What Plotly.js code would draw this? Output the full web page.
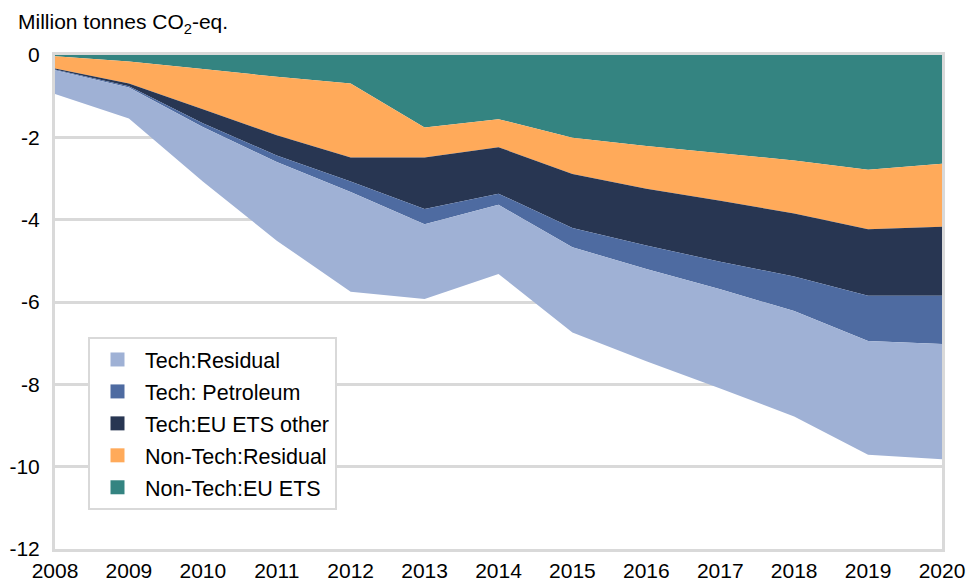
<!DOCTYPE html>
<html>
<head>
<meta charset="utf-8">
<script src="https://cdn.plot.ly/plotly-3.0.1.min.js"></script>
<style>html,body{margin:0;padding:0;background:#fff;}#chart{width:967px;height:582px;}</style>
</head>
<body>
<div id="chart"></div>
<script>
var years = [2008, 2009, 2010, 2011, 2012, 2013, 2014, 2015, 2016, 2017, 2018, 2019, 2020];
var nonTechEUETS   = [-0.03, -0.16, -0.34, -0.53, -0.69, -1.76, -1.56, -2.01, -2.21, -2.38, -2.56, -2.79, -2.64];
var nonTechResidual = [-0.30, -0.53, -0.98, -1.42, -1.80, -0.73, -0.68, -0.88, -1.04, -1.16, -1.29, -1.44, -1.53];
var techEUETSOther = [-0.02, -0.07, -0.34, -0.49, -0.58, -1.25, -1.13, -1.31, -1.38, -1.48, -1.53, -1.62, -1.68];
var techPetroleum  = [-0.02, -0.03, -0.09, -0.16, -0.26, -0.37, -0.27, -0.47, -0.57, -0.67, -0.84, -1.10, -1.17];
var techResidual   = [-0.58, -0.75, -1.32, -1.91, -2.42, -1.82, -1.68, -2.07, -2.24, -2.41, -2.56, -2.76, -2.80];
var seriesNames = ['Non-Tech:EU ETS', 'Non-Tech:Residual', 'Tech:EU ETS other', 'Tech: Petroleum', 'Tech:Residual'];
var yTicks = [0, -2, -4, -6, -8, -10, -12];

var colors = ['#348481', '#FFAA5A', '#283652', '#4E6BA1', '#9FB1D5'];
var values = [nonTechEUETS, nonTechResidual, techEUETSOther, techPetroleum, techResidual];

var traces = [];
values.forEach(function (v, i) {
  traces.push({
    x: years, y: v, type: 'scatter', mode: 'lines', stackgroup: 'one',
    line: {width: 0, color: colors[i]}, fillcolor: colors[i],
    name: seriesNames[i], showlegend: false, hoverinfo: 'x+y+name'
  });
});
for (var i = values.length - 1; i >= 0; i--) {
  traces.push({
    x: [null], y: [null], type: 'scatter', mode: 'markers',
    marker: {symbol: 'square', size: 14, color: colors[i]},
    name: seriesNames[i], showlegend: true, legendgroup: 'g' + i
  });
}

var gray = '#D9D9D9';
var layout = {
  width: 967, height: 582,
  margin: {l: 55, r: 25, t: 55, b: 33},
  paper_bgcolor: '#fff', plot_bgcolor: '#fff',
  font: {family: 'Liberation Sans, Arial, sans-serif', size: 21, color: '#000'},
  title: {
    text: 'Million tonnes CO<sub>2</sub>-eq.',
    xref: 'container', yref: 'container', x: 18 / 967, xanchor: 'left',
    y: 1 - 22 / 582, yanchor: 'middle',
    font: {family: 'Liberation Sans, Arial, sans-serif', size: 21, color: '#000'}
  },
  xaxis: {
    range: [2008, 2020], tickvals: years, ticktext: years.map(String),
    showgrid: false, zeroline: false, ticks: '',
    showline: true, mirror: true, linecolor: gray, linewidth: 3,
    tickfont: {size: 21}, ticklabelstandoff: 1
  },
  xaxis2: {
    range: [2008, 2020], overlaying: 'x', side: 'top', anchor: 'y',
    tickvals: years, ticks: 'inside', ticklen: 6, tickwidth: 3, tickcolor: gray,
    showticklabels: false, showgrid: false, zeroline: false, showline: false
  },
  yaxis: {
    range: [-12, 0], tickvals: yTicks, ticktext: yTicks.map(String),
    showgrid: true, gridcolor: gray, gridwidth: 3, zeroline: false,
    showline: true, mirror: true, linecolor: gray, linewidth: 3, ticks: '',
    tickfont: {size: 21}, ticklabelstandoff: 8
  },
  legend: {
    x: (88 - 55) / 887, y: (549 - 337) / 494, xanchor: 'left', yanchor: 'top',
    bgcolor: '#fff', bordercolor: gray, borderwidth: 2,
    traceorder: 'grouped', tracegroupgap: 1, itemwidth: 45,
    font: {size: 21.5}
  },
  showlegend: true
};

Plotly.newPlot('chart', traces, layout, {displayModeBar: false, staticPlot: true});
</script>
</body>
</html>
